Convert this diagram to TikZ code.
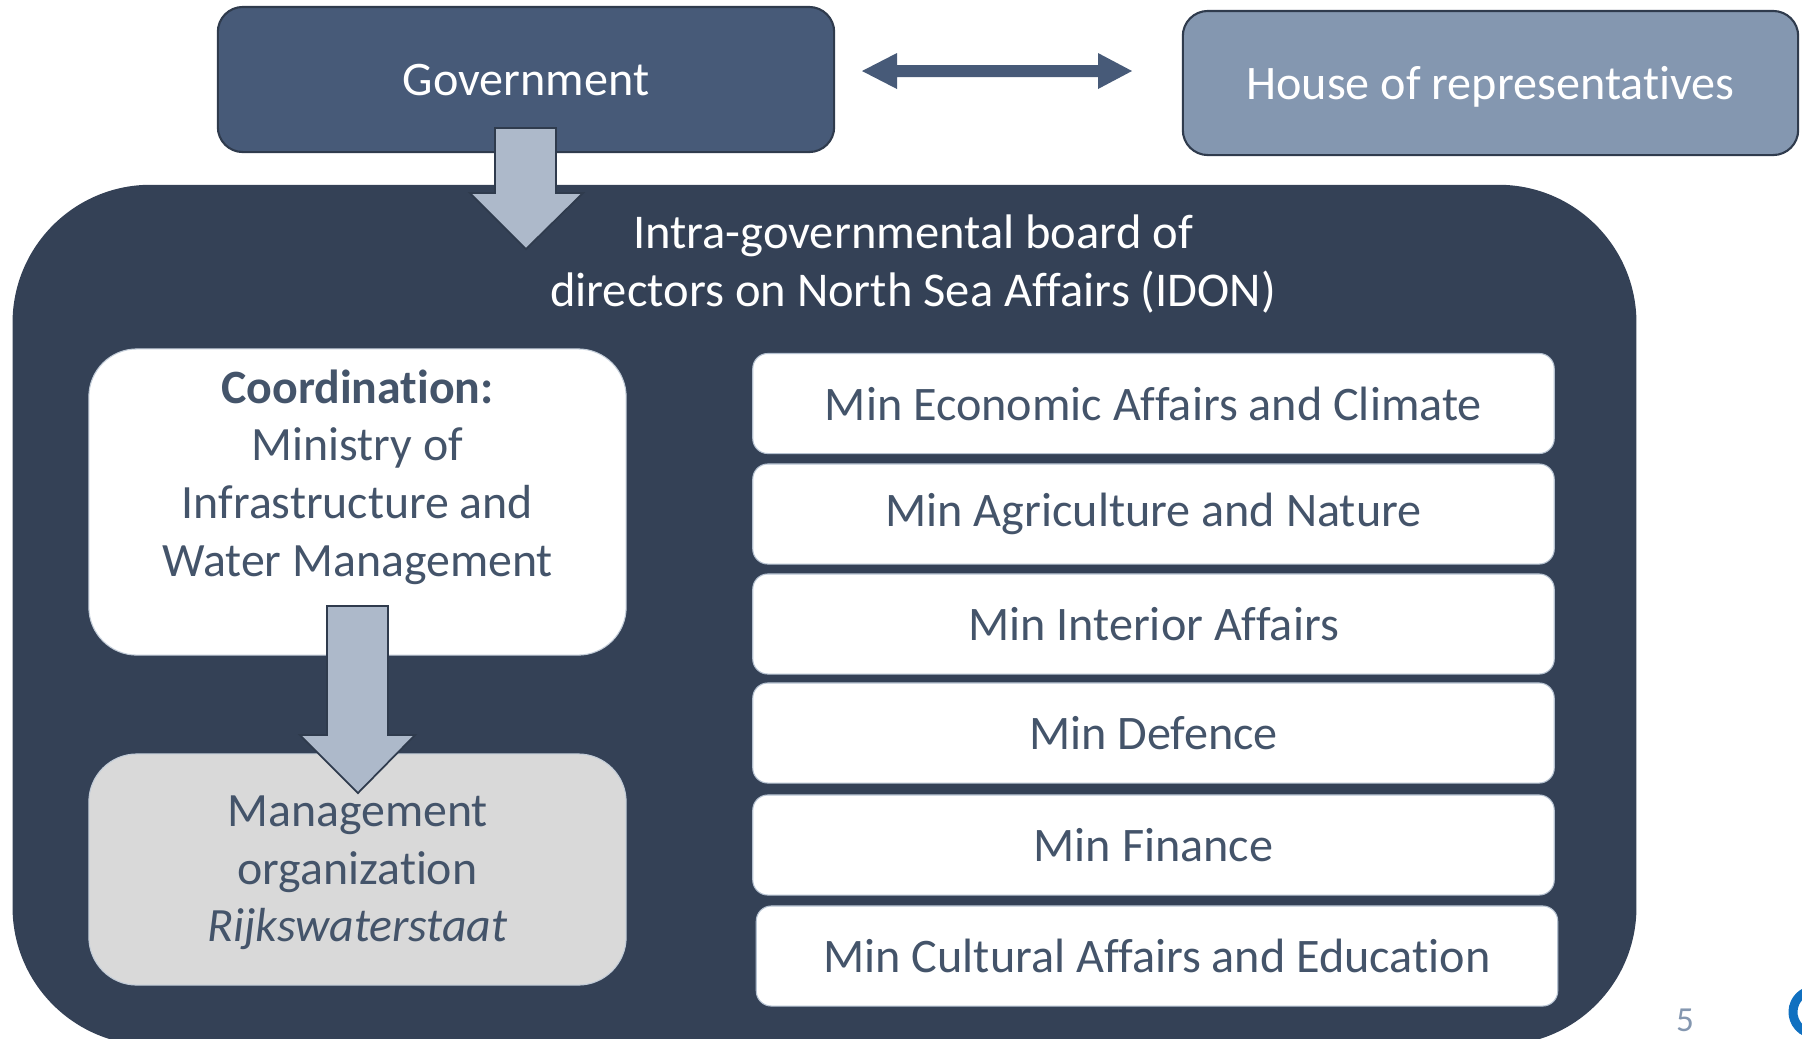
\documentclass[tikz,border=0pt]{standalone}
\usepackage{fontspec}
\setmainfont{Carlito}[Ligatures=NoCommon]
\usepackage{tikz}
\usetikzlibrary{positioning,calc}
\definecolor{idonnavy}{HTML}{344156}
\definecolor{govblue}{HTML}{475A78}
\definecolor{houseblue}{HTML}{8497B0}
\definecolor{arrowgray}{HTML}{ADB9CA}
\definecolor{slatetext}{HTML}{44546A}
\definecolor{edgedark}{HTML}{2F3B4D}
\definecolor{mgmtgray}{HTML}{D9D9D9}
\definecolor{logoblue}{HTML}{1070C0}

\begin{document}
\begin{tikzpicture}[
  x=0.01cm, y=-0.01cm,
  every node/.style={font=\fontsize{13.7pt}{16.5pt}\selectfont, align=center, inner sep=0pt},
  topbox/.style={rounded corners=0.25cm, draw=edgedark, line width=0.6pt, text=white,
                 text depth=0pt, minimum width=6.16cm, minimum height=1.45cm},
  board/.style={fill=idonnavy, rounded corners=1.38cm, minimum width=16.23cm, minimum height=8.6cm},
  panel/.style={rounded corners=0.48cm, draw=houseblue!50, line width=0.3pt, minimum width=5.37cm},
  paneltext/.style={text=slatetext, font=\fontsize{13.6pt}{16.4pt}\selectfont},
  minbox/.style={fill=white, draw=houseblue!60, line width=0.3pt, rounded corners=0.15cm,
                 text=slatetext, minimum width=8.01cm, minimum height=1.0cm},
  blockarrow/.style={fill=arrowgray, draw=edgedark, line width=0.5pt},
]
\useasboundingbox (0,0) rectangle (1802,1038);

% board of directors, runs off the bottom edge
\node[board] (idon) at (824.5,615) {};
\node[text=white, font=\fontsize{13.8pt}{16.7pt}\selectfont] (title) at (913,264)
  {Intra-governmental board of\\directors on North Sea Affairs (IDON)};

% top row
\node[topbox, fill=govblue] (gov) at (526,79.5) {Government};
\node[topbox, fill=houseblue, minimum width=6.15cm, minimum height=1.44cm] (house) at (1490.5,83)
  {House of representatives};
\fill[govblue] (862,71) -- (897,53) -- (897,65) -- (1098,65) -- (1098,53) -- (1132,71)
  -- (1098,89) -- (1098,77) -- (897,77) -- (897,89) -- cycle;
\draw[blockarrow] (495,128) -- (556,128) -- (556,193) -- (583,193) -- (526,249)
  -- (470,193) -- (495,193) -- cycle;

% coordination and management
\node[panel, fill=white, minimum height=3.06cm] (coord) at (357.5,502) {};
\node[paneltext] (coordtxt) at (357.5,477)
  {\textbf{Coordination:}\\Ministry of\\Infrastructure and\\Water Management};
\node[panel, fill=mgmtgray, minimum height=2.31cm] (mgmt) at (357.5,869.5) {};
\node[paneltext] (mgmttxt) at (357.5,873)
  {Management\\organization\\\textit{Rijkswaterstaat}};
\draw[blockarrow] (327,606) -- (388,606) -- (388,735) -- (415,735) -- (358,793)
  -- (300,735) -- (327,735) -- cycle;

% ministries
\foreach \x/\y/\nm/\txt in {1153.5/403.5/ezk/Min Economic Affairs and Climate,
                            1153.5/514/lnv/Min Agriculture and Nature,
                            1153.5/624/bzk/Min Interior Affairs,
                            1153.5/733/def/Min Defence,
                            1153.5/845/fin/Min Finance,
                            1157/956/ocw/Min Cultural Affairs and Education}
  \node[minbox] (\nm) at (\x,\y) {\txt};

% slide number and logo edge
\node[text=houseblue, font=\fontsize{10pt}{12pt}\selectfont, anchor=north] (pagenum) at (1685,1008) {5};
\draw[logoblue, line width=0.09cm] (1815,1012) ++(115:22) arc (115:245:22);
\end{tikzpicture}
\end{document}
